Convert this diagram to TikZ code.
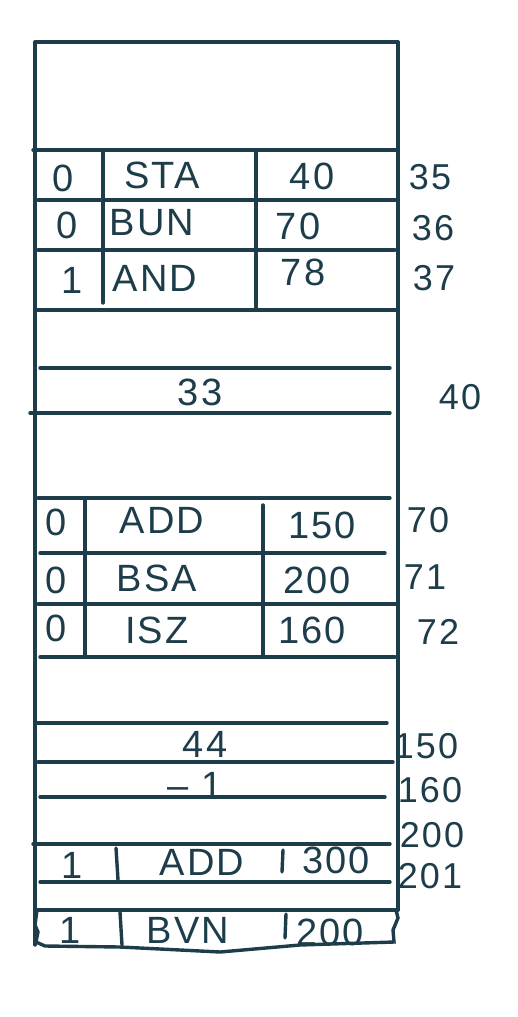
\documentclass[tikz,border=0pt]{standalone}
\usepackage{fontspec}
\setmainfont{Liberation Sans}
\newfontfamily\handfont[LetterSpace=6]{Liberation Sans}
\definecolor{ink}{RGB}{30,61,74}
\tikzset{
  word/.style={text=ink,inner sep=0pt,font=\handfont\fontsize{19}{20}\selectfont},
  addr/.style={word,font=\handfont\fontsize{18}{20}\selectfont}
}
\begin{document}
\begin{tikzpicture}[x=0.5pt,y=-0.5pt,line width=1.7pt,ink,line cap=round]
  \useasboundingbox (0,0) rectangle (518,1017);
  % memory column
  \draw (35,42) -- (398,42);
  \draw (35,42) -- (35,945);
  \draw (398,42) -- (398,910);
  \foreach \y/\a/\b in {150/33/398, 200/38/398, 250/38/395, 310/35/398,
      368/40/390, 413/30/390, 498/38/390, 553/40/385, 604/38/398,
      657/40/395, 723/37/387, 762/38/393, 797/40/385, 844/33/390,
      882/40/390, 910/35/398} {
    \draw (\a,\y) -- (\b,\y);
  }
  \draw (103,150) -- (103,303);
  \draw (256,150) -- (256,310);
  \draw (85,498) -- (85,655);
  \draw (263,505) -- (263,655);
  \draw (116,848) -- (118,880);
  \draw (283,850) -- (282,872);
  \draw (120,912) -- (122,945);
  \draw (286,914) -- (285,938);
  \draw (37,910) -- (35,925) -- (38,932) -- (36,942) -- (45,946)
    -- (120,947) -- (220,952) -- (300,945) -- (394,942) -- (393,930)
    -- (398,918) -- (396,910);
  % words
  \node[word] (i35) at (63,178) {0};
  \node[word] (o35) at (162,175) {STA};
  \node[word] (a35) at (312,176) {40};
  \node[addr] (m35) at (430,177) {35};
  \node[word] (i36) at (67,225) {0};
  \node[word] (o36) at (152,223) {BUN};
  \node[word] (a36) at (298,226) {70};
  \node[addr] (m36) at (433,228) {36};
  \node[word] (i37) at (72,280) {1};
  \node[word] (o37) at (155,278) {AND};
  \node[word] (a37) at (303,272) {78};
  \node[addr] (m37) at (434,278) {37};
  \node[word] (d40) at (200,392) {33};
  \node[addr] (m40) at (460,397) {40};
  \node[word] (i70) at (56,522) {0};
  \node[word] (o70) at (162,520) {ADD};
  \node[word] (a70) at (322,525) {150};
  \node[addr] (m70) at (428,520) {70};
  \node[word] (i71) at (56,580) {0};
  \node[word] (o71) at (157,578) {BSA};
  \node[word] (a71) at (317,580) {200};
  \node[addr] (m71) at (425,577) {71};
  \node[word] (i72) at (56,628) {0};
  \node[word] (o72) at (157,630) {ISZ};
  \node[word] (a72) at (312,630) {160};
  \node[addr] (m72) at (438,632) {72};
  \node[word] (d150) at (205,744) {44};
  \node[addr] (m150) at (426,746) {150};
  \node[word] (d160) at (195,785) {– 1};
  \node[addr] (m160) at (430,790) {160};
  \node[addr] (m200) at (432,835) {200};
  \node[word] (i201) at (72,865) {1};
  \node[word] (o201) at (202,862) {ADD};
  \node[word] (a201) at (336,860) {300};
  \node[addr] (m201) at (430,876) {201};
  \node[word] (ib) at (70,930) {1};
  \node[word] (ob) at (188,930) {BVN};
  \node[word] (ab) at (330,932) {200};
\end{tikzpicture}
\end{document}
